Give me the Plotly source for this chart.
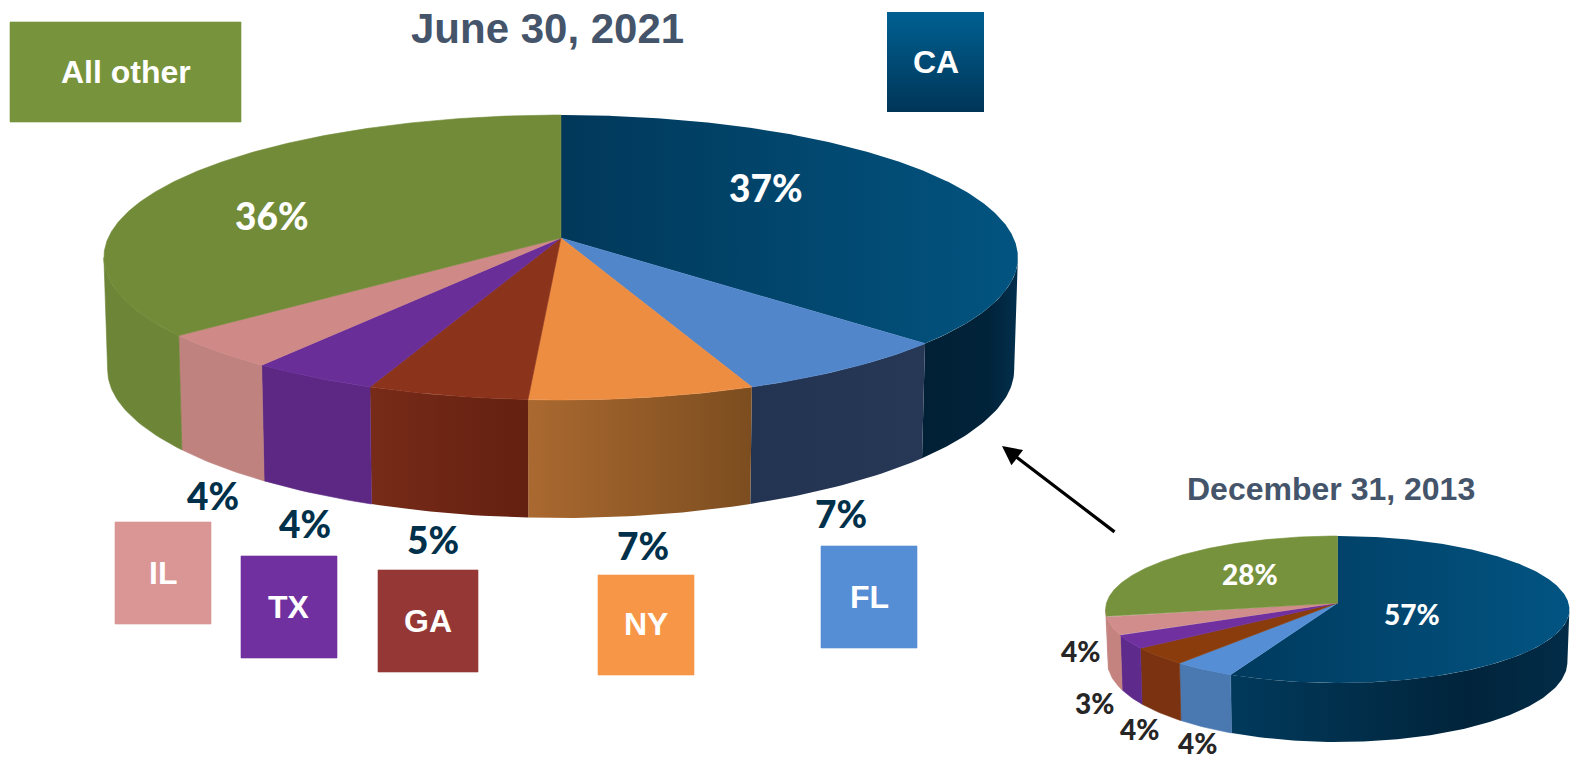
import numpy as np
import plotly.graph_objects as go

# ---------- data ----------
states = ["CA", "FL", "NY", "GA", "TX", "IL", "All other"]
values_2021 = [37, 7, 7, 5, 4, 4, 36]
values_2013 = [57, 4, 0, 4, 3, 4, 28]
title_2021 = "June 30, 2021"
title_2013 = "December 31, 2013"

# ---------- styles ----------
top_2021 = {"CA": ("#01385a", "#025480"), "FL": ("#5286cb", "#5286cb"), "NY": ("#ed8d42", "#ed8d42"),
            "GA": ("#8c331c", "#8c331c"), "TX": ("#6a2e98", "#6a2e98"), "IL": ("#cf8a87", "#cf8a87"),
            "All other": ("#728b38", "#728b38")}
side_2021 = {"CA": ("#011f33", "#02304f"), "FL": ("#233452", "#273857"), "NY": ("#aa6930", "#7c4d1f"),
             "GA": ("#772b18", "#642010"), "TX": ("#5c2884", "#5c2884"), "IL": ("#bf827e", "#bf827e"),
             "All other": ("#6d8537", "#6d8537")}
side_2021_ca_stops = [[0, "#012035"], [0.7, "#01233a"], [1, "#022f4d"]]
top_2013 = {"CA": ("#003a5e", "#025482"), "FL": ("#558ed5", "#558ed5"), "NY": ("#ed8d42", "#ed8d42"),
            "GA": ("#8a3c0c", "#8a3c0c"), "TX": ("#7030a0", "#7030a0"), "IL": ("#d08d8b", "#d08d8b"),
            "All other": ("#77923c", "#77923c")}
side_2013 = {"CA": ("#013a5c", "#02304f"), "FL": ("#4a78b0", "#4a78b0"), "NY": ("#aa6930", "#7c4d1f"),
             "GA": ("#7a3210", "#7a3210"), "TX": ("#5e2a8c", "#5e2a8c"), "IL": ("#c4837f", "#c4837f"),
             "All other": ("#c4837f", "#c4837f")}
side_2013_ca_stops = [[0, "#013a5c"], [0.7, "#01243b"], [1, "#022c48"]]

geom_2021 = dict(cx=560.9, ay=238, bx=452.7, a=139.8, k=0.1368, ay2=350.5, bx2=449, a2=139, k2=0.17)
geom_2013 = dict(cx=1337.5, ay=603, bx=231, a=72.9, k=0.0884, ay2=654.9, bx2=229, a2=79.4, k2=0.0884)


def top_xy(th, g):
    u, v = np.sin(th), np.cos(th)
    d = 1 + g["k"] * v
    return g["cx"] + g["bx"] * u / d, g["ay"] - g["a"] * v / d


def bot_xy(th, g):
    u, v = np.sin(th), np.cos(th)
    return g["cx"] + g["bx2"] * u / (1 + g["k"] * v), g["ay2"] - g["a2"] * v / (1 + g["k2"] * v)


def fill_trace(xs, ys, c0, c1=None, direction="horizontal", stops=None):
    kw = dict(x=list(xs), y=list(ys), mode="lines", fill="toself", hoverinfo="skip",
              showlegend=False)
    if stops is None and (c1 is None or c0 == c1):
        kw["fillcolor"] = c0
        kw["line"] = dict(color=c0, width=0.6)
    else:
        kw["fillgradient"] = dict(type=direction, colorscale=stops or [[0, c0], [1, c1]])
        kw["line"] = dict(color="rgba(0,0,0,0)", width=0)
    return go.Scatter(**kw)


def pie_traces(values, g, tops, sides, ca_stops=None):
    total = sum(values)
    edges = np.cumsum([0] + values) / total * 2 * np.pi
    side_lo = np.arccos(-g["k"])
    side_hi = 2 * np.pi - side_lo
    out_side, out_top = [], []
    for name, v, a, b in zip(states, values, edges[:-1], edges[1:]):
        if v == 0:
            continue
        n = max(int(np.degrees(b - a)), 2) + 1
        lo, hi = max(a, side_lo), min(b, side_hi)
        if hi > lo:
            th = np.linspace(lo, hi, max(int(np.degrees(hi - lo)), 2) + 1)
            xt, yt = top_xy(th, g)
            xb, yb = bot_xy(th[::-1], g)
            s = sides[name]
            out_side.append(fill_trace(np.r_[xt, xb, xt[0]], np.r_[yt, yb, yt[0]], s[0], s[1],
                                       stops=ca_stops if name == "CA" else None))
        th = np.linspace(a, b, n * 2)
        xt, yt = top_xy(th, g)
        c = tops[name]
        out_top.append(fill_trace(np.r_[g["cx"], xt, g["cx"]], np.r_[g["ay"], yt, g["ay"]], c[0], c[1]))
    return out_side + out_top


fig = go.Figure()
fig.add_traces(pie_traces(values_2021, geom_2021, top_2021, side_2021, side_2021_ca_stops))
fig.add_traces(pie_traces(values_2013, geom_2013, top_2013, side_2013, side_2013_ca_stops))

# legend boxes
boxes = {"All other": (10, 241, 22, 122, "#77933c"), "CA": (887, 984, 12, 112, None),
         "IL": (115, 211, 522, 624, "#d99694"), "TX": (241, 337, 556, 658, "#7030a0"),
         "GA": (378, 478, 570, 672, "#953735"), "NY": (598, 694, 575, 675, "#f79646"),
         "FL": (821, 917, 546, 648, "#558ed5")}
for name, (x0, x1, y0, y1, col) in boxes.items():
    xs, ys = [x0, x1, x1, x0, x0], [y0, y0, y1, y1, y0]
    if col is None:
        fig.add_trace(fill_trace(xs, ys, "#003557", "#006092", direction="vertical"))
    else:
        fig.add_trace(fill_trace(xs, ys, col))

annots = []


def label(x, y, text, size, color, family, weight=700):
    annots.append(dict(x=x, y=y, text=text, showarrow=False, xanchor="center", yanchor="middle",
                       font=dict(size=size, color=color, family=family, weight=weight)))


ARIAL = "Liberation Sans"
CAL = "Lato"
label(547, 28, title_2021, 42, "#44546a", ARIAL)
label(1331, 489, title_2013, 32, "#44546a", ARIAL)
label_pos_box = {"All other": (125.5, 72), "CA": (935.5, 62), "IL": (163, 573), "TX": (289, 607),
                 "GA": (428, 621), "NY": (646, 624), "FL": (869, 597)}
for name, (x, y) in label_pos_box.items():
    label(x, y, name, 32, "white", ARIAL)

v21 = dict(zip(states, values_2021))
v13 = dict(zip(states, values_2013))
pos21 = {"All other": (272, 215, "white"), "CA": (766, 187, "white"), "IL": (213, 495, "#00304a"),
         "TX": (305, 523, "#00304a"), "GA": (433, 539, "#00304a"), "NY": (643, 545, "#00304a"),
         "FL": (841, 513, "#00304a")}
for name, (x, y, c) in pos21.items():
    label(x, y, f"{v21[name]}%", 37, c, CAL, 900)
pos13 = {"All other": (1250, 574, "white"), "CA": (1412, 614, "white"), "IL": (1080, 651, "#262626"),
         "TX": (1094, 703, "#262626"), "GA": (1139, 729, "#262626"), "FL": (1197, 743, "#262626")}
for name, (x, y, c) in pos13.items():
    label(x, y, f"{v13[name]}%", 28, c, CAL, 900)

# arrow from the small pie to the large one
annots.append(dict(x=1002, y=446, ax=1116, ay=533, xref="x", yref="y", axref="x", ayref="y", text="",
                   showarrow=True, arrowhead=2, arrowsize=1.2, arrowwidth=3.2, arrowcolor="#000000"))

axis = dict(visible=False, fixedrange=True)
fig.update_layout(width=1571, height=761, margin=dict(l=0, r=0, t=0, b=0), paper_bgcolor="white",
                  plot_bgcolor="white", showlegend=False, annotations=annots,
                  xaxis=dict(range=[0, 1571], **axis),
                  yaxis=dict(range=[761, 0], **axis))
fig.write_html("out.html", config=dict(displayModeBar=False),
               post_script="document.body.style.margin='0';document.body.style.overflow='hidden';")
